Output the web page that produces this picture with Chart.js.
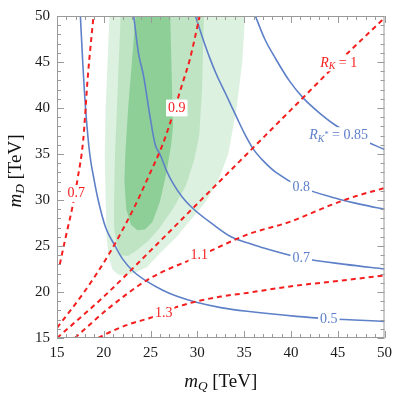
<!DOCTYPE html>
<html>
<head>
<meta charset="utf-8">
<script src="https://cdn.jsdelivr.net/npm/chart.js@4"></script>
<style>
  html, body { margin: 0; padding: 0; background: #fff; }
  #wrap { width: 398px; height: 398px; }
</style>
</head>
<body>
<div id="wrap"><canvas id="chart"></canvas></div>
<script>
// axis ranges and tick labels
const xMin = 15, xMax = 50;
const yMin = 15, yMax = 50;
const tickStep = 5;

// green fit regions (boundary points, m_Q vs m_D)
const regionOuter = [[20.7,52],[20.6,50],[20.4,45],[20.2,40],[20.1,35],[20.2,30],[20.3,26],[20.5,24],[20.9,22.5],[21.5,21.9],[22.3,21.8],[23.3,22.1],[24.6,22.7],[26.0,24.2],[27.8,26.0],[29.5,28.1],[30.9,29.8],[32.3,32.3],[33.3,35],[34.2,40],[34.8,45],[35.1,50],[35.2,52]];
const regionMiddle = [[21.9,52],[21.8,50],[21.6,45],[21.4,40],[21.2,35],[21.1,30],[21.1,27],[21.4,25],[21.9,24.0],[22.6,23.9],[23.5,24.5],[24.8,25.6],[26.0,27.0],[27.5,29.2],[28.8,31.6],[29.7,34.5],[30.2,37],[30.5,42],[30.7,50],[30.8,52]];
const regionInner = [[23.5,52],[23.4,50],[23.0,45],[22.6,40],[22.3,35],[22.2,32],[22.4,29],[22.9,27.3],[23.6,26.7],[24.4,26.8],[25.2,27.6],[26.0,29.8],[26.7,33],[27.2,36],[27.4,38],[27.3,42],[27.1,50],[27.0,52]];

// R_K* contours (blue)
const rkstar05 = [[17.5,50],[17.75,45],[18.05,40],[18.5,35],[19.0,32],[19.4,30],[20.2,27],[21.1,25.2],[22.0,23.6],[23.2,22.2],[24.7,21.1],[26.3,20.2],[27.9,19.5],[30,18.85],[32.5,18.3],[35.3,17.9],[40.6,17.35],[44,17.1],[50,16.8]];
const rkstar07 = [[23.2,50],[23.7,46],[24.25,43.5],[24.95,39],[25.5,36],[26.0,35.0],[26.7,33.2],[27.4,31.8],[28.4,30.3],[29.5,29.1],[31.6,27.4],[33.6,26.0],[35.8,25.2],[37,24.8],[41.1,23.7],[45.8,23.0],[50,22.5]];
const rkstar08 = [[29.8,50],[30.6,47.5],[31.3,45.5],[32.1,43.5],[33.0,41.6],[34.2,39.0],[35.0,37.3],[36.0,35.5],[37.1,34.2],[38.4,33.0],[41.1,31.4],[44.8,30.2],[47.6,29.5],[50,29.0]];
const rkstar085 = [[36.2,50],[37.2,47.5],[38.4,45.3],[39.8,43],[41.3,41.1],[43,39.5],[44.8,38.1],[47.5,36.6],[50,35.5]];

// R_K contours (red dashed)
const rk07 = [[15.3,23.0],[15.85,25.6],[16.7,29.5],[17.2,32.3],[17.8,36.5],[18.3,43.5],[18.9,50]];
const rk09 = [[15.0,16.1],[17.8,19.85],[20.6,24.2],[23.4,29.5],[24.8,32.6],[26.2,35.8],[27.05,38.25],[28.45,42.8],[29.2,45.3],[30.25,50]];
const rk1 = [[15,15],[20,19.5],[25,24.5],[30,29.6],[35,34.7],[40,39.8],[45,44.9],[50,49.8]];
const rk11 = [[16.9,15.0],[20.6,18.3],[24.8,21.4],[30.2,23.9],[35.5,26.3],[39.8,27.6],[44.4,29.5],[46.9,30.4],[50,31.3]];
const rk13 = [[19.4,15.0],[21,15.8],[23,16.6],[25,17.2],[27.6,18.3],[30,19.0],[32.5,19.5],[35.3,19.9],[40.6,20.7],[45,21.2],[50,21.8]];

// contour labels: [m_Q, m_D, text parts]
const blueLabels = [
  [44.05, 17.05, [['0.5']]],
  [41.1, 23.7, [['0.7']]],
  [41.1, 31.4, [['0.8']]],
  [45.1, 37.0, [['R','i'], ['K','is'], ['*','sup'], [' = 0.85']]]
];
const redLabels = [
  [17.07, 30.7, [['0.7']]],
  [27.8, 40.0, [['0.9']]],
  [45.1, 44.9, [['R','i'], ['K','is'], [' = 1']]],
  [30.2, 24.0, [['1.1']]],
  [26.4, 17.65, [['1.3']]]
];

const SERIF = '"Liberation Serif", "DejaVu Serif", serif';
const BLUE = 'rgb(94,128,200)';
const RED = 'rgb(245,30,30)';

function pts(arr) {
  return arr.map(p => ({x: p[0], y: p[1]}));
}

function region(arr, color, order) {
  return { data: pts(arr), showLine: true, fill: 'shape', backgroundColor: color,
           borderWidth: 0, pointRadius: 0, order: order };
}
function blueLine(arr) {
  return { data: pts(arr), showLine: true, fill: false, borderColor: BLUE,
           borderWidth: 1.6, pointRadius: 0, cubicInterpolationMode: 'monotone', order: 5 };
}
function redLine(arr) {
  return { data: pts(arr), showLine: true, fill: false, borderColor: RED,
           borderWidth: 2, borderDash: [5, 4], pointRadius: 0, cubicInterpolationMode: 'monotone', order: 1 };
}

// draws a mixed italic / subscript string centred on (cx, cy)
function drawRich(ctx, parts, cx, cy, size, color, box) {
  const pieces = parts.map(p => {
    const style = p[1] || '';
    let s = size, dy = 0, it = false;
    if (style.indexOf('i') >= 0) it = true;
    if (style.indexOf('s') >= 0 && style !== 'sup') { s = size * 0.7; dy = size * 0.25; }
    if (style === 'sup') { s = size * 0.6; dy = -size * 0.05; it = false; }
    const font = (it ? 'italic ' : '') + s + 'px ' + SERIF;
    ctx.font = font;
    return {t: p[0], font: font, dy: dy, w: ctx.measureText(p[0]).width};
  });
  const total = pieces.reduce((a, b) => a + b.w, 0);
  if (box) {
    ctx.fillStyle = '#fff';
    ctx.fillRect(cx - total / 2 - 2, cy - size * 0.6, total + 4, size * 1.2);
  }
  let x = cx - total / 2;
  ctx.fillStyle = color;
  ctx.textBaseline = 'middle';
  ctx.textAlign = 'left';
  pieces.forEach(p => {
    ctx.font = p.font;
    ctx.fillText(p.t, x, cy + p.dy);
    x += p.w;
  });
}

const framePlugin = {
  id: 'frame',
  afterDatasetsDraw(chart) {
    const ctx = chart.ctx;
    const a = chart.chartArea;
    const xs = chart.scales.x, ys = chart.scales.y;
    ctx.save();
    // contour labels
    blueLabels.forEach(l => drawRich(ctx, l[2], xs.getPixelForValue(l[0]), ys.getPixelForValue(l[1]), 14, BLUE, true));
    redLabels.forEach(l => drawRich(ctx, l[2], xs.getPixelForValue(l[0]), ys.getPixelForValue(l[1]), 14, RED, true));

    // frame with inward ticks
    ctx.strokeStyle = '#9a9a9a';
    ctx.lineWidth = 1;
    ctx.strokeRect(a.left + 0.5, a.top + 0.5, a.right - a.left - 1, a.bottom - a.top - 1);
    ctx.beginPath();
    for (let v = xMin; v <= xMax; v++) {
      const len = (v % tickStep === 0) ? 7 : 4;
      const px = Math.round(xs.getPixelForValue(v)) + 0.5;
      ctx.moveTo(px, a.bottom); ctx.lineTo(px, a.bottom - len);
      ctx.moveTo(px, a.top); ctx.lineTo(px, a.top + len);
    }
    for (let v = yMin; v <= yMax; v++) {
      const len = (v % tickStep === 0) ? 7 : 4;
      const py = Math.round(ys.getPixelForValue(v)) + 0.5;
      ctx.moveTo(a.left, py); ctx.lineTo(a.left + len, py);
      ctx.moveTo(a.right, py); ctx.lineTo(a.right - len, py);
    }
    ctx.stroke();

    // axis titles
    drawRich(ctx, [['m','i'], ['Q','is'], [' [TeV]']], (a.left + a.right) / 2, 382, 19, '#111', false);
    ctx.translate(16, 171);
    ctx.rotate(-Math.PI / 2);
    drawRich(ctx, [['m','i'], ['D','is'], [' [TeV]']], 0, 0, 19, '#111', false);
    ctx.restore();
  }
};

new Chart(document.getElementById('chart'), {
  type: 'scatter',
  data: {
    datasets: [
      region(regionOuter, 'rgb(221,241,224)', 12),
      region(regionMiddle, 'rgb(191,228,196)', 11),
      region(regionInner, 'rgb(142,207,152)', 10),
      blueLine(rkstar05), blueLine(rkstar07), blueLine(rkstar08), blueLine(rkstar085),
      redLine(rk07), redLine(rk09), redLine(rk1), redLine(rk11), redLine(rk13)
    ]
  },
  options: {
    responsive: true,
    maintainAspectRatio: false,
    animation: false,
    layout: { padding: { top: 5, right: 8, left: 0, bottom: 0 } },
    plugins: { legend: { display: false }, tooltip: { enabled: false } },
    scales: {
      x: {
        type: 'linear', min: xMin, max: xMax,
        grid: { display: false, drawTicks: false },
        border: { display: false },
        ticks: { stepSize: tickStep, padding: 6, color: '#1a1a1a', font: { family: SERIF, size: 15 } },
        afterFit(scale) { scale.height = 60; }
      },
      y: {
        type: 'linear', min: yMin, max: yMax,
        grid: { display: false, drawTicks: false },
        border: { display: false },
        ticks: { stepSize: tickStep, padding: 7, color: '#1a1a1a', font: { family: SERIF, size: 15 } },
        afterFit(scale) { scale.width = 57; }
      }
    }
  },
  plugins: [framePlugin]
});
</script>
</body>
</html>
